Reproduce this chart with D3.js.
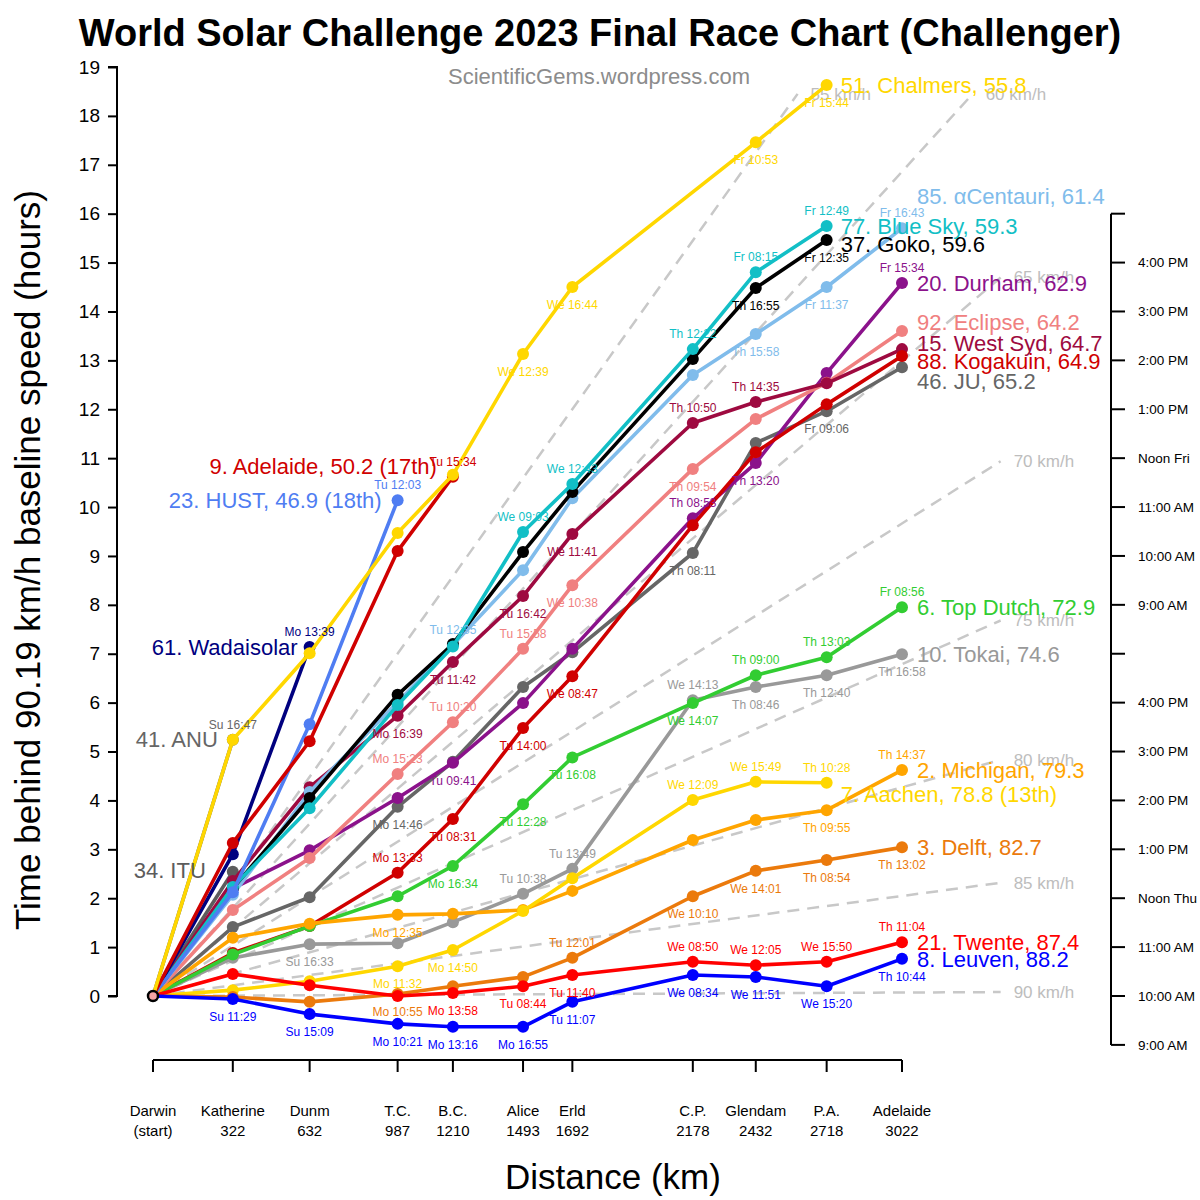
<!DOCTYPE html>
<html>
<head>
<meta charset="utf-8">
<script src="https://cdn.jsdelivr.net/npm/d3@7"></script>
<style>
  body { margin: 0; background: #fff; }
  svg { font-family: "Liberation Sans", Arial, sans-serif; }
</style>
</head>
<body>
<div class="vis-racechart"></div>
<script>
// control stops along the Stuart Highway
const stopNames = ["Darwin", "Katherine", "Dunm", "T.C.", "B.C.", "Alice", "Erld", "C.P.", "Glendam", "P.A.", "Adelaide"];
const stopSub = ["(start)", "322", "632", "987", "1210", "1493", "1692", "2178", "2432", "2718", "3022"];
const stopKm = [0, 322, 632, 987, 1210, 1493, 1692, 2178, 2432, 2718, 3022];

const baseline = 90.19;
const speeds = [55, 60, 65, 70, 75, 80, 85, 90];

// right hand clock axis (hours behind baseline -> time of day)
const clockHours = [-1, 0, 1, 2, 3, 4, 5, 6, 7, 8, 9, 10, 11, 12, 13, 14, 15, 16];
const clockLabels = ["9:00 AM", "10:00 AM", "11:00 AM", "Noon Thu", "1:00 PM", "2:00 PM", "3:00 PM", "4:00 PM", "",
  "9:00 AM", "10:00 AM", "11:00 AM", "Noon Fri", "1:00 PM", "2:00 PM", "3:00 PM", "4:00 PM", ""];

// hours behind the baseline at each stop (null = no time shown)
const itu = [0, 2.54];
const anu = [0, 5.24];
const wadaisolar = [0, 2.90, 7.14];
const hust = [0, 2.12, 5.56, 10.14];
const adelaide = [0, 3.13, 5.21, 9.10, 10.62];
const chalmers = [0, 5.24, 7.01, 9.47, 10.66, 13.13, 14.50, null, 17.46, 18.63];
const acentauri = [0, 2.07, 4.17, 6.01, 7.18, 8.71, 10.18, 12.70, 13.54, 14.50, 15.70];
const bluesky = [0, 2.23, 3.84, 5.95, 7.15, 9.49, 10.47, 13.23, 14.80, 15.75];
const goko = [0, 2.20, 4.05, 6.16, 7.20, 9.08, 10.31, 13.03, 14.48, 15.46];
const durham = [0, 2.20, 2.98, 4.05, 4.77, 5.99, 7.10, 9.77, 10.90, 12.74, 14.58];
const eclipse = [0, 1.76, 2.82, 4.54, 5.60, 7.10, 8.40, 10.78, 11.80, 12.54, 13.60];
const westsyd = [0, 2.35, 4.27, 5.73, 6.83, 8.18, 9.45, 11.72, 12.15, 12.53, 13.23];
const kogakuin = [0, 0.88, 1.43, 2.52, 3.62, 5.48, 6.54, 9.63, 11.12, 12.10, 13.09];
const ju = [0, 1.41, 2.02, 3.87, 4.79, 6.32, 7.03, 9.06, 11.31, 11.96, 12.86];
const topdutch = [0, 0.85, 1.43, 2.04, 2.66, 3.92, 4.88, 5.99, 6.56, 6.93, 7.95];
const tokai = [0, 0.78, 1.06, 1.08, 1.51, 2.09, 2.60, 6.05, 6.32, 6.56, 6.99];
const michigan = [0, 1.19, 1.48, 1.66, 1.68, 1.76, 2.15, 3.19, 3.60, 3.80, 4.62];
const aachen = [0, 0.12, 0.30, 0.61, 0.94, 1.74, 2.41, 4.01, 4.38, 4.36];
const delft = [0, -0.02, -0.12, 0.04, 0.20, 0.39, 0.78, 2.04, 2.56, 2.78, 3.04];
const twente = [0, 0.45, 0.22, 0.00, 0.06, 0.20, 0.43, 0.70, 0.63, 0.70, 1.10];
const leuven = [0, -0.06, -0.37, -0.57, -0.63, -0.63, -0.12, 0.43, 0.39, 0.20, 0.76];

// arrival times at stops (key = stop index)
const tAnu = {1: "Su 16:47"};
const tWadaisolar = {2: "Mo 13:39"};
const tHust = {3: "Tu 12:03"};
const tAdelaide = {4: "Tu 15:34"};
const tChalmers = {5: "We 12:39", 6: "We 16:44", 8: "Fr 10:53", 9: "Fr 15:44"};
const tAcentauri = {4: "Tu 12:35", 8: "Th 15:58", 9: "Fr 11:37", 10: "Fr 16:43"};
const tBluesky = {5: "We 09:03", 6: "We 12:43", 7: "Th 12:22", 8: "Fr 08:15", 9: "Fr 12:49"};
const tGoko = {8: "Th 16:55", 9: "Fr 12:35"};
const tDurham = {4: "Tu 09:41", 7: "Th 08:53", 8: "Th 13:20", 10: "Fr 15:34"};
const tEclipse = {3: "Mo 15:23", 4: "Tu 10:20", 5: "Tu 15:58", 6: "We 10:38", 7: "Th 09:54"};
const tWestsyd = {3: "Mo 16:39", 4: "Tu 11:42", 5: "Tu 16:42", 6: "We 11:41", 7: "Th 10:50", 8: "Th 14:35"};
const tKogakuin = {3: "Mo 13:33", 4: "Tu 08:31", 5: "Tu 14:00", 6: "We 08:47"};
const tJu = {3: "Mo 14:46", 7: "Th 08:11", 9: "Fr 09:06"};
const tTopdutch = {4: "Mo 16:34", 5: "Tu 12:28", 6: "Tu 16:08", 7: "We 14:07", 8: "Th 09:00", 9: "Th 13:03", 10: "Fr 08:56"};
const tTokai = {2: "Su 16:33", 5: "Tu 10:38", 6: "Tu 13:49", 7: "We 14:13", 8: "Th 08:46", 9: "Th 12:40", 10: "Th 16:58"};
const tMichigan = {3: "Mo 12:35", 9: "Th 09:55", 10: "Th 14:37"};
const tAachen = {3: "Mo 11:32", 4: "Mo 14:50", 7: "We 12:09", 8: "We 15:49", 9: "Th 10:28"};
const tDelft = {3: "Mo 10:55", 6: "Tu 12:01", 7: "We 10:10", 8: "We 14:01", 9: "Th 08:54", 10: "Th 13:02"};
const tTwente = {4: "Mo 13:58", 5: "Tu 08:44", 6: "Tu 11:40", 7: "We 08:50", 8: "We 12:05", 9: "We 15:50", 10: "Th 11:04"};
const tLeuven = {1: "Su 11:29", 2: "Su 15:09", 3: "Mo 10:21", 4: "Mo 13:16", 5: "Mo 16:55", 6: "Tu 11:07", 7: "We 08:34", 8: "We 11:51", 9: "We 15:20", 10: "Th 10:44"};

// drawing order, bottom to top
const teams = [
  {key: "itu", label: "34. ITU", hours: itu, times: {}},
  {key: "anu", label: "41. ANU", hours: anu, times: tAnu},
  {key: "tokai", label: "10. Tokai, 74.6", hours: tokai, times: tTokai},
  {key: "ju", label: "46. JU, 65.2", hours: ju, times: tJu},
  {key: "durham", label: "20. Durham, 62.9", hours: durham, times: tDurham},
  {key: "eclipse", label: "92. Eclipse, 64.2", hours: eclipse, times: tEclipse},
  {key: "westsyd", label: "15. West Syd, 64.7", hours: westsyd, times: tWestsyd},
  {key: "acentauri", label: "85. αCentauri, 61.4", hours: acentauri, times: tAcentauri},
  {key: "goko", label: "37. Goko, 59.6", hours: goko, times: tGoko},
  {key: "bluesky", label: "77. Blue Sky, 59.3", hours: bluesky, times: tBluesky},
  {key: "kogakuin", label: "88. Kogakuin, 64.9", hours: kogakuin, times: tKogakuin},
  {key: "topdutch", label: "6. Top Dutch, 72.9", hours: topdutch, times: tTopdutch},
  {key: "michigan", label: "2. Michigan, 79.3", hours: michigan, times: tMichigan},
  {key: "aachen", label: "7. Aachen, 78.8 (13th)", hours: aachen, times: tAachen},
  {key: "delft", label: "3. Delft, 82.7", hours: delft, times: tDelft},
  {key: "twente", label: "21. Twente, 87.4", hours: twente, times: tTwente},
  {key: "leuven", label: "8. Leuven, 88.2", hours: leuven, times: tLeuven},
  {key: "wadaisolar", label: "61. Wadaisolar", hours: wadaisolar, times: tWadaisolar},
  {key: "hust", label: "23. HUST, 46.9 (18th)", hours: hust, times: tHust},
  {key: "adelaide", label: "9. Adelaide, 50.2 (17th)", hours: adelaide, times: tAdelaide},
  {key: "chalmers", label: "51. Chalmers, 55.8", hours: chalmers, times: tChalmers}
];

// colours, which time labels sit below the dot, end label nudges
const styles = {
  itu:        {color: "#5c5c5c", below: [], anchor: "end", dx: -27, dy: -2},
  anu:        {color: "#666666", below: [], anchor: "end", dx: -15, dy: 0},
  tokai:      {color: "#999999", below: [2, 8, 9, 10], anchor: "start", dx: 15, dy: 0},
  ju:         {color: "#666666", below: [3, 7, 9], anchor: "start", dx: 15, dy: 14},
  durham:     {color: "#8b128b", below: [4, 8], anchor: "start", dx: 15, dy: 0},
  eclipse:    {color: "#f08080", below: [6, 7], anchor: "start", dx: 15, dy: -9},
  westsyd:    {color: "#9e0a40", below: [3, 4, 5, 6], anchor: "start", dx: 15, dy: -6},
  acentauri:  {color: "#80bceb", below: [8, 9], anchor: "start", dx: 15, dy: -32},
  goko:       {color: "#000000", below: [8, 9], anchor: "start", dx: 14, dy: 4},
  bluesky:    {color: "#12bfc6", below: [], anchor: "start", dx: 14, dy: 0},
  kogakuin:   {color: "#d00000", below: [4, 5, 6], anchor: "start", dx: 15, dy: 5},
  topdutch:   {color: "#32cd32", below: [4, 5, 6, 7], anchor: "start", dx: 15, dy: 0},
  michigan:   {color: "#ffa500", below: [3, 9], anchor: "start", dx: 15, dy: 0},
  aachen:     {color: "#ffd700", below: [3, 4], anchor: "start", dx: 14, dy: 11},
  delft:      {color: "#eb7a0c", below: [3, 7, 8, 9, 10], anchor: "start", dx: 15, dy: 0},
  twente:     {color: "#ff0000", below: [4, 5, 6], anchor: "start", dx: 15, dy: 0},
  leuven:     {color: "#0000ff", below: [1, 2, 3, 4, 5, 6, 7, 8, 9, 10], anchor: "start", dx: 15, dy: 0},
  wadaisolar: {color: "#00007f", below: [], anchor: "end", dx: -12, dy: 0},
  hust:       {color: "#4f7df2", below: [], anchor: "end", dx: -16, dy: 0},
  adelaide:   {color: "#d00000", below: [], anchor: "end", dx: -16, dy: -10},
  chalmers:   {color: "#ffd700", below: [5, 6, 8, 9], anchor: "start", dx: 14, dy: 0}
};

const draw = () => {
  const width = 1200, height = 1200;
  const svg = d3.select(".vis-racechart")
    .append("svg")
    .attr("width", width)
    .attr("height", height);

  const x = d3.scaleLinear().domain([0, 3022]).range([153, 902]);
  const y = d3.scaleLinear().domain([0, 19]).range([996, 67]);

  // title + watermark
  svg.append("text")
    .attr("x", 600).attr("y", 46)
    .attr("text-anchor", "middle")
    .attr("font-size", 38).attr("font-weight", "bold")
    .text("World Solar Challenge 2023 Final Race Chart (Challenger)");

  svg.append("text")
    .attr("x", 599).attr("y", 84)
    .attr("text-anchor", "middle")
    .attr("font-size", 22).attr("fill", "#8c8c8c")
    .text("ScientificGems.wordpress.com");

  // left axis
  svg.append("g")
    .attr("transform", "translate(117,0)")
    .call(d3.axisLeft(y).tickValues(d3.range(0, 20)).tickSize(9).tickPadding(8).tickFormat(d3.format("d")))
    .call(g => g.select(".domain").attr("stroke-width", 2).attr("d", `M-9,${y(19)}H0V${y(0)}H-9`))
    .call(g => g.selectAll(".tick line").attr("stroke-width", 2))
    .call(g => g.selectAll(".tick text").attr("font-size", 19).attr("font-family", null));

  svg.append("text")
    .attr("transform", "translate(40,560) rotate(-90)")
    .attr("text-anchor", "middle")
    .attr("font-size", 35)
    .text("Time behind 90.19 km/h baseline speed (hours)");

  // bottom axis with stop names
  const xAxis = svg.append("g").attr("transform", "translate(0,1060)");
  xAxis.append("line")
    .attr("x1", x(0)).attr("x2", x(3022))
    .attr("stroke", "#000").attr("stroke-width", 2);
  const stopTicks = xAxis.selectAll("g.stop")
    .data(stopKm)
    .join("g")
    .attr("class", "stop")
    .attr("transform", d => `translate(${x(d)},0)`);
  stopTicks.append("line").attr("y2", 12).attr("stroke", "#000").attr("stroke-width", 2);
  stopTicks.append("text")
    .attr("y", 56).attr("text-anchor", "middle").attr("font-size", 15)
    .text((d, i) => stopNames[i]);
  stopTicks.append("text")
    .attr("y", 76).attr("text-anchor", "middle").attr("font-size", 15)
    .text((d, i) => stopSub[i]);

  svg.append("text")
    .attr("x", 613).attr("y", 1189)
    .attr("text-anchor", "middle")
    .attr("font-size", 35)
    .text("Distance (km)");

  // right clock axis
  const clock = svg.append("g").attr("transform", "translate(1111,0)");
  clock.append("line")
    .attr("y1", y(16)).attr("y2", y(-1))
    .attr("stroke", "#000").attr("stroke-width", 2);
  const ct = clock.selectAll("g.ct")
    .data(clockHours)
    .join("g")
    .attr("class", "ct")
    .attr("transform", d => `translate(0,${y(d)})`);
  ct.append("line").attr("x2", 14).attr("stroke", "#000").attr("stroke-width", 2);
  ct.append("text")
    .attr("x", 27).attr("dy", "0.35em").attr("font-size", 13.5)
    .text((d, i) => clockLabels[i]);

  // constant speed reference lines
  const speedG = svg.append("g");
  speeds.forEach(v => {
    const k = 1 / v - 1 / baseline;
    const dEnd = Math.min(3420, 18.45 / k);
    speedG.append("line")
      .attr("x1", x(0)).attr("y1", y(0))
      .attr("x2", x(dEnd)).attr("y2", y(dEnd * k))
      .attr("stroke", "#c8c8c8").attr("stroke-width", 2.5)
      .attr("stroke-dasharray", "12,8");
    speedG.append("text")
      .attr("x", x(dEnd) + 13).attr("y", y(dEnd * k))
      .attr("dy", "0.35em").attr("font-size", 17).attr("fill", "#bdbdbd")
      .text(`${v} km/h`);
  });

  const line = d3.line().x(d => x(d.km)).y(d => y(d.h));
  const pts = t => t.hours.map((h, i) => ({km: stopKm[i], h: h, i: i})).filter(d => d.h !== null);

  // team lines and dots
  const teamG = svg.append("g");
  teams.forEach(t => {
    const st = styles[t.key];
    const p = pts(t);
    teamG.append("path")
      .datum(p)
      .attr("d", line)
      .attr("fill", "none")
      .attr("stroke", st.color)
      .attr("stroke-width", 3.6)
      .attr("stroke-linejoin", "round");
    teamG.selectAll(null)
      .data(p.filter(d => d.i > 0))
      .join("circle")
      .attr("cx", d => x(d.km)).attr("cy", d => y(d.h))
      .attr("r", 6)
      .attr("fill", st.color);
  });

  // start marker
  svg.append("circle")
    .attr("cx", x(0)).attr("cy", y(0)).attr("r", 5)
    .attr("fill", "#f4a3a3").attr("stroke", "#000").attr("stroke-width", 2.5);

  // arrival time labels
  const timeG = svg.append("g").attr("font-size", 12).attr("text-anchor", "middle");
  teams.forEach(t => {
    const st = styles[t.key];
    Object.keys(t.times).forEach(k => {
      const i = +k;
      const below = st.below.includes(i);
      timeG.append("text")
        .attr("x", x(stopKm[i]))
        .attr("y", y(t.hours[i]) + (below ? 22 : -11))
        .attr("fill", st.color)
        .text(t.times[i]);
    });
  });

  // team end labels
  const labelG = svg.append("g").attr("font-size", 22);
  teams.forEach(t => {
    const st = styles[t.key];
    const p = pts(t);
    const last = p[p.length - 1];
    labelG.append("text")
      .attr("x", x(last.km) + st.dx)
      .attr("y", y(last.h) + st.dy)
      .attr("dy", "0.35em")
      .attr("text-anchor", st.anchor)
      .attr("fill", st.color)
      .text(t.label);
  });

  return svg;
};

draw();
</script>
</body>
</html>
